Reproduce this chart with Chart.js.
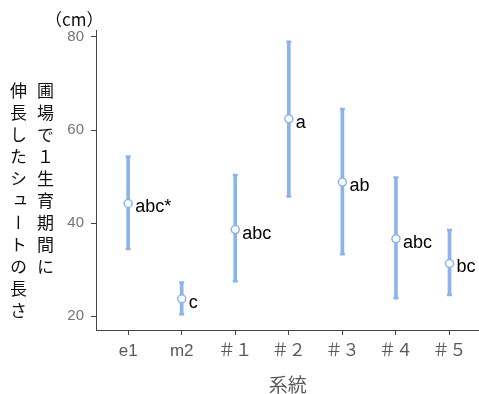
<!DOCTYPE html>
<html>
<head>
<meta charset="utf-8">
<script src="https://cdn.jsdelivr.net/npm/chart.js@4"></script>
<style>
html,body{margin:0;padding:0;background:#fff;overflow:hidden;}
#wrap{position:relative;width:479px;height:394px;overflow:hidden;}
canvas{position:absolute;left:0;top:0;}
.vt{position:absolute;writing-mode:vertical-rl;text-orientation:upright;font-family:"Noto Sans CJK JP";font-size:17px;letter-spacing:5px;color:#111;line-height:20px;white-space:nowrap;}
#unit{position:absolute;left:45px;top:10px;font-family:"Noto Sans CJK JP";font-size:17px;line-height:17px;color:#111;white-space:nowrap;}
</style>
</head>
<body>
<div id="wrap">
<canvas id="c" width="486" height="394"></canvas>
<div id="unit">（cm）</div>
<div class="vt" id="t1" style="left:35px;top:82px;">圃場で１生育期間に</div>
<div class="vt" id="t2" style="left:8px;top:82px;">伸長したシュートの長さ</div>
</div>
<script>
const categories = ['e1','m2','＃１','＃２','＃３','＃４','＃５'];
const means = [44.2, 23.7, 38.6, 62.4, 48.8, 36.6, 31.3];
const upper = [54.3, 27.2, 50.3, 79.0, 64.5, 49.8, 38.5];
const lower = [34.4, 20.4, 27.5, 45.7, 33.3, 23.8, 24.5];
const letters = ['abc*','c','abc','a','ab','abc','bc'];
const yTicks = [20, 40, 60, 80];
const xTitle = '系統';

const blue = '#8cb4ec';

const letterPlugin = {
  id: 'letters',
  afterDatasetsDraw(chart) {
    const {ctx, scales} = chart;
    ctx.save();
    ctx.font = '18px "Liberation Sans", Arial, sans-serif';
    ctx.fillStyle = '#000';
    ctx.textAlign = 'left';
    ctx.textBaseline = 'middle';
    letters.forEach((t, i) => {
      const x = scales.x.getPixelForValue(i) + 7;
      const y = scales.y.getPixelForValue(means[i]) + 4;
      ctx.fillText(t, x, y);
    });
    ctx.restore();
  }
};

new Chart(document.getElementById('c'), {
  type: 'bar',
  data: {
    datasets: [
      {
        type: 'scatter',
        data: means.map((v, i) => ({x: i, y: v})),
        pointRadius: 4,
        pointBackgroundColor: '#fff',
        pointBorderColor: blue,
        pointBorderWidth: 1.5,
        order: 0
      },
      {
        type: 'scatter',
        data: upper.map((v, i) => ({x: i, y: v})).concat(lower.map((v, i) => ({x: i, y: v}))),
        pointStyle: 'line',
        pointRadius: 2.5,
        pointBorderColor: blue,
        pointBorderWidth: 2.5,
        order: 1
      },
      {
        type: 'bar',
        data: lower.map((v, i) => ({x: i, y: [v, upper[i]]})),
        backgroundColor: blue,
        borderWidth: 0,
        barThickness: 3,
        order: 2
      }
    ]
  },
  options: {
    responsive: false,
    animation: false,
    events: [],
    layout: {padding: {top: 30, right: 0, left: 0, bottom: 0}},
    plugins: {legend: {display: false}, tooltip: {enabled: false}},
    scales: {
      x: {
        type: 'linear',
        min: -0.6,
        max: 6.56,
        offset: false,
        afterBuildTicks(s) { s.ticks = categories.map((c, i) => ({value: i})); },
        afterFit(s) { s.height = 64; },
        ticks: {
          callback: (v) => categories[v] ?? '',
          font: {family: '"Liberation Sans", "Noto Sans CJK JP", sans-serif', size: 17},
          color: '#5a5a5a',
          padding: 6,
          maxRotation: 0,
          autoSkip: false
        },
        grid: {display: true, drawOnChartArea: false, drawTicks: true, tickLength: 5, color: '#444', offset: false},
        border: {display: true, color: '#444', width: 1},
        title: {display: true, text: xTitle, font: {family: '"Noto Sans CJK JP"', size: 19}, color: '#5a5a5a', padding: {top: 0, bottom: -2}}
      },
      y: {
        type: 'linear',
        min: 17,
        max: 81.5,
        afterBuildTicks(s) { s.ticks = yTicks.map(v => ({value: v})); },
        afterFit(s) { s.width = 96; },
        ticks: {
          font: {family: '"Liberation Sans", Arial, sans-serif', size: 15},
          color: '#757575',
          padding: 7
        },
        grid: {display: true, drawOnChartArea: false, drawTicks: true, tickLength: 5, color: '#444'},
        border: {display: true, color: '#444', width: 1}
      }
    }
  },
  plugins: [letterPlugin]
});
</script>
</body>
</html>
